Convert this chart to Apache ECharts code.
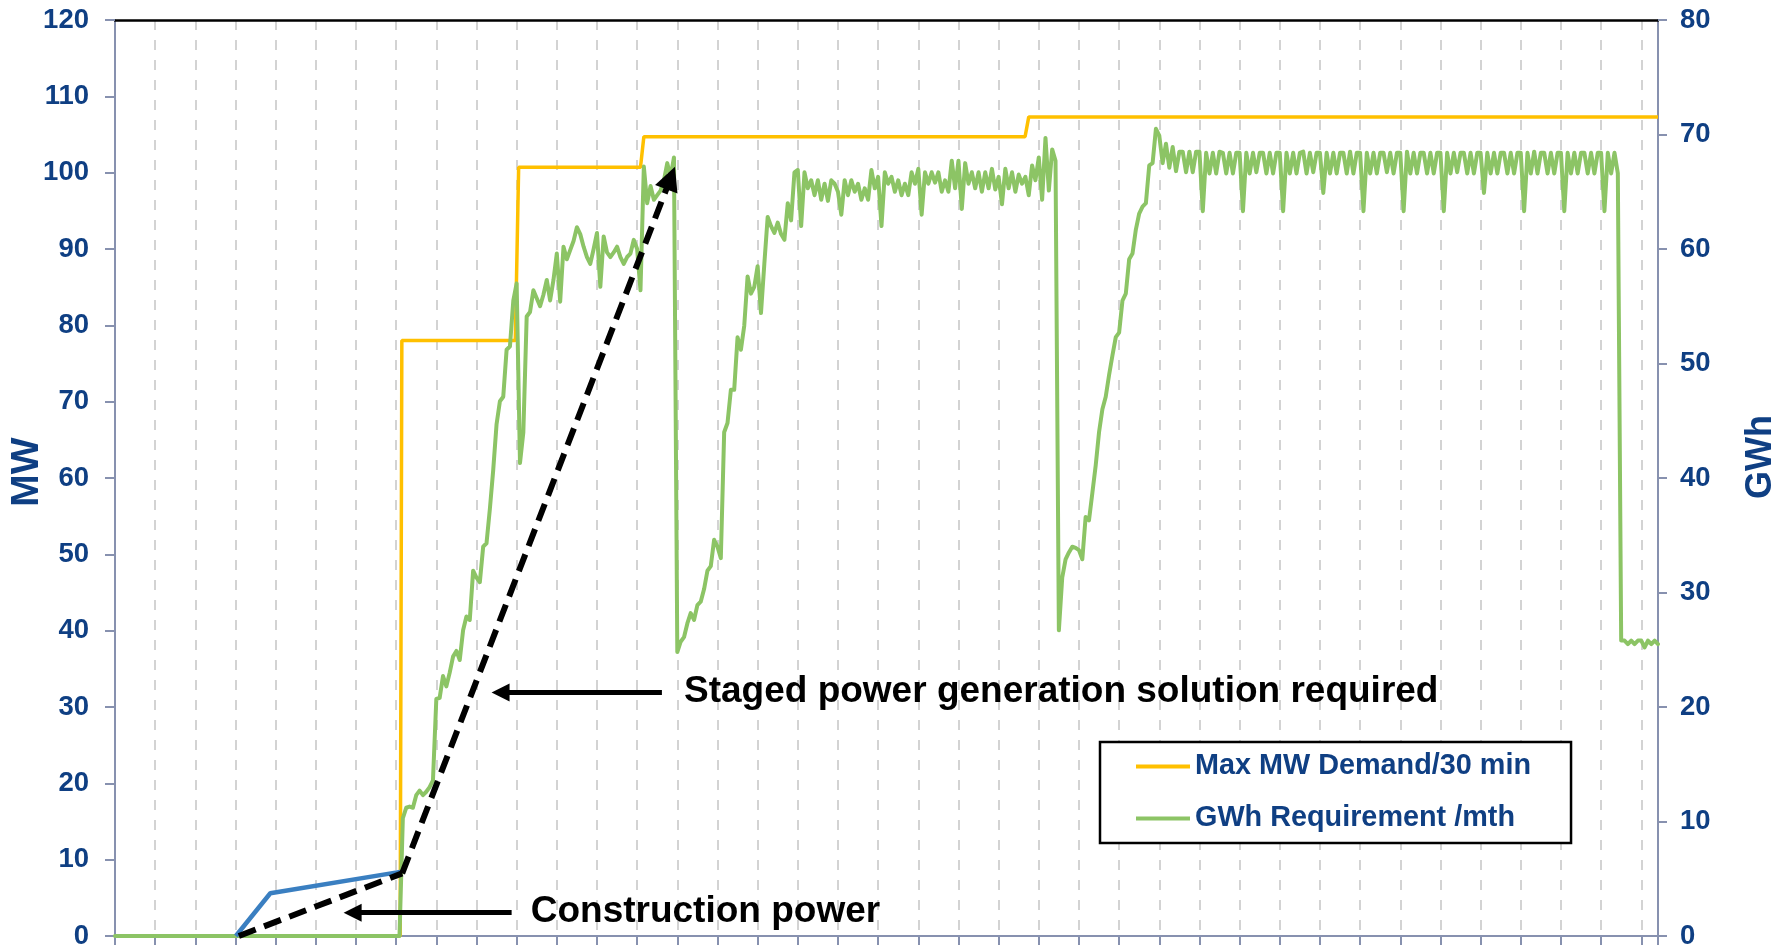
<!DOCTYPE html>
<html>
<head>
<meta charset="utf-8">
<script src="https://cdn.jsdelivr.net/npm/echarts/dist/echarts.min.js"></script>
<style>
html,body{margin:0;padding:0;background:#ffffff;}
#c{width:1792px;height:950px;}
</style>
</head>
<body>
<div id="c"></div>
<script>
// ---------------- data (x = month index from start, 12 months per gridline) ----------------
const monthsPerTick = 12;
const xMaxMonth = 461;
const mwAxisMax = 120, mwAxisStep = 10;
const gwhAxisMax = 80, gwhAxisStep = 10;

// Max MW Demand/30 min (left axis, MW)
const demandMonth = [0, 85.2, 85.7, 119.6, 120.6, 157, 158, 271.9, 273, 461];
const demandMW    = [0, 0,    78,   78,    100.7, 100.7, 104.7, 104.7, 107.3, 107.3];

// GWh Requirement /mth (right axis, GWh) - one value per month starting at month 84
const gwhStartMonth = 84;
const gwhMonthly = [
  0, 0, 10.3, 11.2, 11.3, 11.2, 12.3, 12.7, 12.3, 12.6, 13.0, 13.6,
  20.7, 20.8, 22.7, 21.8, 23.0, 24.4, 24.9, 24.1, 26.7, 27.9, 27.6, 31.9,
  31.3, 30.9, 34.0, 34.3, 37.3, 40.7, 44.7, 46.7, 47.1, 51.2, 51.5, 55.5,
  57.0, 41.3, 44.0, 54.1, 54.5, 56.4, 55.7, 55.0, 56.0, 57.3, 55.5, 57.3,
  59.6, 55.4, 60.2, 59.1, 59.9, 60.7, 61.9, 61.3, 60.2, 59.3, 58.7, 60.0,
  61.4, 56.7, 61.1, 59.7, 59.3, 59.7, 60.2, 59.3, 58.7, 59.3, 59.6, 60.8,
  60.0, 56.4, 67.2, 64.0, 65.5, 64.3, 64.7, 65.1, 66.0, 67.5, 66.3, 68.0,
  24.8, 25.7, 26.1, 27.3, 28.2, 27.6, 28.9, 29.2, 30.3, 31.9, 32.3, 34.6,
  34.0, 33.0, 44.0, 44.8, 47.7, 47.7, 52.3, 51.2, 53.3, 57.6, 56.1, 56.7,
  58.5, 54.4, 58.7, 62.8, 62.0, 61.4, 62.3, 61.3, 60.8, 64.0, 62.5, 66.7,
  66.9, 62.0, 66.7, 65.3, 66.0, 64.7, 66.0, 64.3, 65.7, 64.2, 66.0, 65.7,
  65.0, 63.0, 66.0, 64.7, 66.0, 65.0, 65.7, 64.3, 65.3, 64.3, 66.9, 65.3,
  66.3, 62.0, 66.7, 65.7, 66.3, 65.0, 66.0, 64.7, 65.7, 64.7, 66.7, 65.7,
  67.0, 63.0, 66.7, 65.7, 66.7, 65.8, 66.7, 65.0, 66.0, 65.0, 67.7, 65.3,
  67.7, 63.5, 67.5, 65.7, 66.7, 65.3, 66.7, 65.0, 66.7, 65.3, 67.0, 65.2,
  66.3, 63.9, 67.0, 65.3, 66.7, 65.0, 66.5, 65.7, 66.3, 64.7, 67.3, 66.0,
  68.0, 64.3, 69.7, 65.1, 68.7, 67.7, 26.7, 31.3, 32.9, 33.5, 34.0, 33.9,
  33.7, 32.9, 36.6, 36.3, 38.7, 41.1, 44.0, 46.0, 47.1, 49.0, 50.7, 52.3,
  52.7, 55.5, 56.1, 59.1, 59.6, 61.7, 63.1, 63.7, 64.0, 67.3, 67.5, 70.5,
  69.9, 67.5, 69.2, 67.1, 68.9, 66.8, 68.5, 68.5, 66.7, 68.5, 66.7, 68.5,
  68.5, 63.3, 68.4, 66.6, 68.4, 66.6, 68.5, 68.4, 66.6, 68.4, 66.6, 68.4,
  68.4, 63.3, 68.4, 66.6, 68.4, 66.7, 68.4, 68.4, 66.6, 68.4, 66.6, 68.4,
  68.4, 63.3, 68.4, 66.6, 68.4, 66.6, 68.4, 68.5, 66.6, 68.4, 66.7, 68.4,
  68.4, 64.9, 68.4, 66.6, 68.4, 66.6, 68.4, 68.4, 66.6, 68.5, 66.6, 68.4,
  68.4, 63.3, 68.4, 66.6, 68.4, 66.6, 68.4, 68.4, 66.7, 68.4, 66.6, 68.4,
  68.4, 63.3, 68.5, 66.6, 68.4, 66.6, 68.4, 68.4, 66.6, 68.4, 66.6, 68.4,
  68.4, 63.3, 68.4, 66.6, 68.4, 66.7, 68.4, 68.4, 66.6, 68.4, 66.6, 68.4,
  68.4, 64.9, 68.4, 66.6, 68.4, 66.6, 68.4, 68.4, 66.6, 68.4, 66.6, 68.4,
  68.4, 63.3, 68.4, 66.6, 68.5, 66.6, 68.4, 68.4, 66.6, 68.4, 66.6, 68.4,
  68.4, 63.3, 68.4, 66.6, 68.4, 66.6, 68.4, 68.4, 66.6, 68.4, 66.6, 68.4,
  68.4, 63.3, 68.4, 66.6, 68.4, 66.6, 25.8, 25.8, 25.5, 25.8, 25.5, 25.8,
  25.8, 25.2, 25.8, 25.5, 25.8, 25.5
];

// Construction power (blue, MW)
const constructionMonth = [36.1, 46.4, 85.2];
const constructionMW    = [0, 5.6, 8.4];

// Staged trend (black dashed, MW)
const trendMonth = [37, 85.8, 166.0];
const trendMW    = [0, 8.2, 99.3];

// Annotations (data coordinates: month, MW)
const noteTexts  = ['Staged power generation solution required', 'Construction power'];
const noteArrowFrom = [[163.4, 31.9], [118.5, 3.05]];
const noteArrowTo   = [[115.2, 31.9], [71.0, 3.05]];
const noteTextAt    = [[170.0, 32.0], [124.2, 3.2]];

const seriesNames = ['Max MW Demand/30 min', 'GWh Requirement /mth'];

// ---------------- styles ----------------
const FONT = "'Liberation Sans', Arial, Helvetica, sans-serif";
const LABEL_BLUE = '#0f3f83';
const AXIS_GREY = '#8791af';
const YELLOW = '#ffc000';
const GREEN = '#8cc465';
const BLUE = '#3a7fc1';

const zip = (xs, ys) => xs.map((x, i) => [x, ys[i]]);
const gwhData = [[0, 0]].concat(gwhMonthly.map((v, i) => [gwhStartMonth + i, v]));

const axisLabelStyle = {fontSize: 27.5, fontWeight: 'bold', color: LABEL_BLUE, fontFamily: FONT};

const option = {
  animation: false,
  backgroundColor: '#ffffff',
  grid: {left: 115, right: 134, top: 20, bottom: 14, containLabel: false},
  legend: {
    data: seriesNames,
    orient: 'vertical',
    left: 1100, top: 742,
    icon: 'rect', itemWidth: 54, itemHeight: 4, itemGap: 23,
    padding: [10, 40, 10, 36],
    backgroundColor: '#ffffff', borderColor: '#000000', borderWidth: 2.5,
    textStyle: {fontSize: 28.8, fontWeight: 'bold', color: LABEL_BLUE, fontFamily: FONT},
    selectedMode: false
  },
  xAxis: [
    {
      type: 'value', min: 0, max: xMaxMonth, interval: monthsPerTick, position: 'bottom',
      axisLine: {show: true, lineStyle: {color: AXIS_GREY, width: 2}},
      axisTick: {show: true, inside: false, length: 9, lineStyle: {color: AXIS_GREY, width: 2}},
      axisLabel: {show: false},
      splitLine: {show: true, lineStyle: {color: '#d3d3d3', width: 2, type: [10, 10]}}
    },
    {
      type: 'value', min: 0, max: xMaxMonth, interval: monthsPerTick, position: 'top',
      axisLine: {show: true, onZero: false, lineStyle: {color: '#000000', width: 2.5}},
      axisTick: {show: false}, axisLabel: {show: false}, splitLine: {show: false}
    }
  ],
  yAxis: [
    {
      type: 'value', min: 0, max: mwAxisMax, interval: mwAxisStep, position: 'left',
      axisLine: {show: true, onZero: false, lineStyle: {color: AXIS_GREY, width: 2}},
      axisTick: {show: true, inside: false, length: 10, lineStyle: {color: AXIS_GREY, width: 2}},
      axisLabel: Object.assign({margin: 26}, axisLabelStyle),
      splitLine: {show: false}
    },
    {
      type: 'value', min: 0, max: gwhAxisMax, interval: gwhAxisStep, position: 'right',
      axisLine: {show: true, onZero: false, lineStyle: {color: AXIS_GREY, width: 2}},
      axisTick: {show: true, inside: false, length: 9, lineStyle: {color: AXIS_GREY, width: 2}},
      axisLabel: Object.assign({margin: 22}, axisLabelStyle),
      splitLine: {show: false}
    }
  ],
  series: [
    {
      name: seriesNames[0], type: 'line', xAxisIndex: 0, yAxisIndex: 0,
      data: zip(demandMonth, demandMW), showSymbol: false, symbol: 'none', clip: false,
      lineStyle: {color: YELLOW, width: 3.5}, itemStyle: {color: YELLOW}, z: 2
    },
    {
      name: seriesNames[1], type: 'line', xAxisIndex: 0, yAxisIndex: 1,
      data: gwhData, showSymbol: false, symbol: 'none', clip: false,
      lineStyle: {color: GREEN, width: 4, join: 'round', cap: 'round'}, itemStyle: {color: GREEN}, z: 3
    },
    {
      name: 'Construction', type: 'line', xAxisIndex: 0, yAxisIndex: 0,
      data: zip(constructionMonth, constructionMW), showSymbol: false, symbol: 'none', clip: false,
      lineStyle: {color: BLUE, width: 4.5}, z: 4
    },
    {
      name: 'Trend', type: 'line', xAxisIndex: 0, yAxisIndex: 0,
      data: zip(trendMonth, trendMW).slice(0, 2), showSymbol: false, symbol: 'none', clip: false,
      lineStyle: {color: '#000000', width: 6, type: [18, 9]}, z: 6,
      markLine: {
        silent: true, animation: false, precision: 4,
        label: {show: false},
        lineStyle: {color: '#000000', width: 6, type: [18, 9]},
        emphasis: {disabled: true},
        data: [
          [ {coord: [trendMonth[1], trendMW[1]], symbol: 'none'},
            {coord: [trendMonth[2], trendMW[2]], symbol: 'triangle', symbolSize: [24, 24]} ],
          [ {coord: noteArrowFrom[0], symbol: 'none', lineStyle: {type: 'solid', width: 5, color: '#000'}},
            {coord: noteArrowTo[0], symbol: 'triangle', symbolSize: [18, 18]} ],
          [ {coord: noteArrowFrom[1], symbol: 'none', lineStyle: {type: 'solid', width: 5, color: '#000'}},
            {coord: noteArrowTo[1], symbol: 'triangle', symbolSize: [18, 18]} ]
        ]
      }
    }
  ]
};

const chart = echarts.init(document.getElementById('c'), null, {renderer: 'canvas'});
chart.setOption(option);

const graphics = [
  {type: 'text', x: 27, y: 472, rotation: Math.PI / 2, z: 10,
   style: {text: 'MW', fill: LABEL_BLUE, font: "bold 39px " + FONT,
           align: 'center', verticalAlign: 'middle', textAlign: 'center', textVerticalAlign: 'middle'}},
  {type: 'text', x: 1761, y: 457, rotation: Math.PI / 2, z: 10,
   style: {text: 'GWh', fill: LABEL_BLUE, font: "bold 36px " + FONT,
           align: 'center', verticalAlign: 'middle', textAlign: 'center', textVerticalAlign: 'middle'}}
];
noteTexts.forEach((t, i) => {
  const p = chart.convertToPixel({xAxisIndex: 0, yAxisIndex: 0}, noteTextAt[i]);
  graphics.push({type: 'text', x: p[0], y: p[1], z: 10,
    style: {text: t, fill: '#000000', font: "bold 37px " + FONT,
            align: 'left', verticalAlign: 'middle', textAlign: 'left', textVerticalAlign: 'middle'}});
});
chart.setOption({graphic: graphics});
</script>
</body>
</html>
